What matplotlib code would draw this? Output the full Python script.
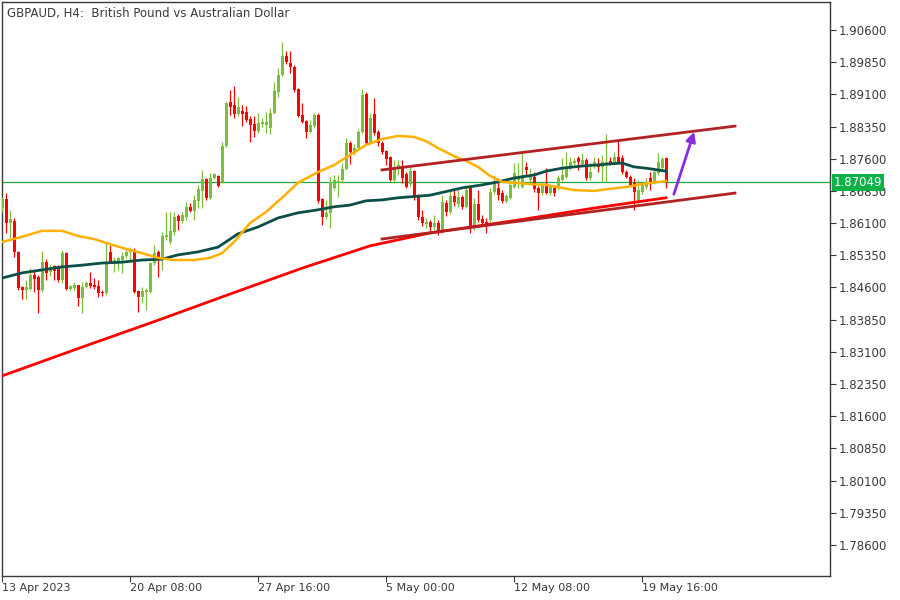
import numpy as np
import matplotlib
matplotlib.use("Agg")
from matplotlib import pyplot as plt
import matplotlib.transforms as mtransforms

# GBPAUD H4 candles
opens = [
    1.8645, 1.8666, 1.8610, 1.8615, 1.8543, 1.8461, 1.8454, 1.8456, 1.8489, 1.8484,
    1.8454, 1.8519, 1.8496, 1.8510, 1.8505, 1.8477, 1.8540, 1.8456, 1.8459, 1.8466,
    1.8436, 1.8461, 1.8470, 1.8466, 1.8463, 1.8450, 1.8447, 1.8543, 1.8522, 1.8522,
    1.8524, 1.8533, 1.8543, 1.8543, 1.8452, 1.8438, 1.8450, 1.8450, 1.8517, 1.8543,
    1.8524, 1.8578, 1.8566, 1.8589, 1.8627, 1.8615, 1.8624, 1.8648, 1.8638, 1.8662,
    1.8685, 1.8713, 1.8669, 1.8715, 1.8720, 1.8706, 1.8790, 1.8892, 1.8885, 1.8864,
    1.8871, 1.8869, 1.8853, 1.8841, 1.8825, 1.8841, 1.8839, 1.8832, 1.8867, 1.8916,
    1.8955, 1.8999, 1.8983, 1.8974, 1.8923, 1.8862, 1.8848, 1.8822, 1.8836, 1.8862,
    1.8666, 1.8624, 1.8634, 1.8692, 1.8704, 1.8710, 1.8736, 1.8797, 1.8773, 1.8785,
    1.8822, 1.8911, 1.8797, 1.8864, 1.8822, 1.8797, 1.8778, 1.8764, 1.8710, 1.8736,
    1.8741, 1.8724, 1.8701, 1.8731, 1.8675, 1.8624, 1.8608, 1.8613, 1.8601, 1.8610,
    1.8589, 1.8657, 1.8636, 1.8673, 1.8655, 1.8671, 1.8648, 1.8694, 1.8599, 1.8655,
    1.8620, 1.8613, 1.8617, 1.8683, 1.8692, 1.8680, 1.8662, 1.8669, 1.8694, 1.8710,
    1.8694, 1.8741, 1.8710, 1.8717, 1.8692, 1.8680, 1.8699, 1.8680, 1.8692, 1.8692,
    1.8710, 1.8717, 1.8738, 1.8750, 1.8762, 1.8748, 1.8757, 1.8715, 1.8745, 1.8745,
    1.8741, 1.8748, 1.8755, 1.8750, 1.8764, 1.8762, 1.8729, 1.8717, 1.8704, 1.8657,
    1.8683, 1.8694, 1.8715, 1.8706, 1.8727, 1.8738, 1.8762,
]
highs = [
    1.8671, 1.8680, 1.8641, 1.8622, 1.8545, 1.8463, 1.8477, 1.8505, 1.8501, 1.8489,
    1.8545, 1.8526, 1.8515, 1.8512, 1.8512, 1.8547, 1.8543, 1.8466, 1.8473, 1.8466,
    1.8473, 1.8475, 1.8496, 1.8482, 1.8477, 1.8454, 1.8566, 1.8559, 1.8531, 1.8531,
    1.8543, 1.8552, 1.8554, 1.8552, 1.8454, 1.8461, 1.8459, 1.8519, 1.8559, 1.8547,
    1.8589, 1.8636, 1.8636, 1.8636, 1.8631, 1.8636, 1.8659, 1.8657, 1.8675, 1.8699,
    1.8734, 1.8715, 1.8727, 1.8727, 1.8722, 1.8799, 1.8892, 1.8920, 1.8930, 1.8904,
    1.8885, 1.8883, 1.8860, 1.8860, 1.8867, 1.8855, 1.8869, 1.8878, 1.8939, 1.8971,
    1.9032, 1.9011, 1.9011, 1.8978, 1.8925, 1.8890, 1.8850, 1.8850, 1.8867, 1.8867,
    1.8669, 1.8664, 1.8717, 1.8722, 1.8722, 1.8750, 1.8808, 1.8801, 1.8794, 1.8829,
    1.8923, 1.8916, 1.8867, 1.8902, 1.8827, 1.8801, 1.8780, 1.8766, 1.8757, 1.8757,
    1.8757, 1.8729, 1.8741, 1.8734, 1.8678, 1.8641, 1.8622, 1.8617, 1.8629, 1.8617,
    1.8675, 1.8664, 1.8687, 1.8692, 1.8687, 1.8675, 1.8699, 1.8696, 1.8669, 1.8687,
    1.8629, 1.8622, 1.8692, 1.8722, 1.8715, 1.8687, 1.8678, 1.8710, 1.8750, 1.8750,
    1.8773, 1.8752, 1.8738, 1.8729, 1.8696, 1.8704, 1.8738, 1.8699, 1.8696, 1.8722,
    1.8762, 1.8776, 1.8764, 1.8762, 1.8766, 1.8773, 1.8762, 1.8750, 1.8764, 1.8762,
    1.8769, 1.8818, 1.8764, 1.8776, 1.8801, 1.8769, 1.8734, 1.8722, 1.8715, 1.8710,
    1.8704, 1.8715, 1.8729, 1.8738, 1.8773, 1.8764, 1.8764,
]
lows = [
    1.8636, 1.8587, 1.8575, 1.8531, 1.8454, 1.8433, 1.8433, 1.8454, 1.8450, 1.8401,
    1.8450, 1.8477, 1.8487, 1.8477, 1.8473, 1.8470, 1.8454, 1.8454, 1.8454, 1.8417,
    1.8401, 1.8459, 1.8459, 1.8456, 1.8438, 1.8440, 1.8443, 1.8517, 1.8496, 1.8501,
    1.8494, 1.8529, 1.8524, 1.8447, 1.8403, 1.8424, 1.8407, 1.8447, 1.8512, 1.8484,
    1.8501, 1.8571, 1.8561, 1.8582, 1.8594, 1.8610, 1.8617, 1.8636, 1.8617, 1.8645,
    1.8645, 1.8664, 1.8666, 1.8713, 1.8694, 1.8704, 1.8787, 1.8862, 1.8855, 1.8860,
    1.8836, 1.8846, 1.8799, 1.8811, 1.8820, 1.8834, 1.8820, 1.8818, 1.8864, 1.8904,
    1.8953, 1.8981, 1.8960, 1.8916, 1.8857, 1.8843, 1.8808, 1.8820, 1.8832, 1.8657,
    1.8606, 1.8620, 1.8599, 1.8687, 1.8671, 1.8704, 1.8734, 1.8748, 1.8769, 1.8783,
    1.8820, 1.8792, 1.8794, 1.8815, 1.8790, 1.8771, 1.8745, 1.8708, 1.8704, 1.8722,
    1.8704, 1.8692, 1.8696, 1.8664, 1.8617, 1.8603, 1.8599, 1.8592, 1.8594, 1.8582,
    1.8587, 1.8627, 1.8631, 1.8650, 1.8648, 1.8643, 1.8645, 1.8587, 1.8594, 1.8613,
    1.8606, 1.8587, 1.8613, 1.8678, 1.8664, 1.8657, 1.8657, 1.8666, 1.8692, 1.8692,
    1.8692, 1.8722, 1.8706, 1.8683, 1.8641, 1.8675, 1.8678, 1.8675, 1.8673, 1.8687,
    1.8708, 1.8715, 1.8734, 1.8745, 1.8734, 1.8743, 1.8710, 1.8710, 1.8738, 1.8729,
    1.8706, 1.8706, 1.8745, 1.8745, 1.8750, 1.8724, 1.8715, 1.8696, 1.8641, 1.8652,
    1.8678, 1.8690, 1.8687, 1.8701, 1.8722, 1.8734, 1.8692,
]
closes = [
    1.8666, 1.8610, 1.8620, 1.8543, 1.8459, 1.8454, 1.8461, 1.8489, 1.8480, 1.8454,
    1.8519, 1.8494, 1.8508, 1.8498, 1.8477, 1.8540, 1.8456, 1.8463, 1.8466, 1.8436,
    1.8461, 1.8470, 1.8463, 1.8461, 1.8447, 1.8447, 1.8519, 1.8519, 1.8524, 1.8529,
    1.8533, 1.8543, 1.8547, 1.8450, 1.8438, 1.8452, 1.8454, 1.8517, 1.8540, 1.8529,
    1.8580, 1.8582, 1.8592, 1.8624, 1.8615, 1.8629, 1.8648, 1.8638, 1.8664, 1.8690,
    1.8713, 1.8669, 1.8715, 1.8724, 1.8696, 1.8790, 1.8890, 1.8881, 1.8864, 1.8881,
    1.8864, 1.8850, 1.8839, 1.8825, 1.8843, 1.8846, 1.8846, 1.8867, 1.8918, 1.8955,
    1.8999, 1.8985, 1.8974, 1.8920, 1.8860, 1.8846, 1.8822, 1.8839, 1.8862, 1.8662,
    1.8624, 1.8634, 1.8706, 1.8710, 1.8708, 1.8736, 1.8797, 1.8776, 1.8785, 1.8822,
    1.8909, 1.8797, 1.8855, 1.8820, 1.8797, 1.8776, 1.8759, 1.8710, 1.8741, 1.8745,
    1.8715, 1.8694, 1.8731, 1.8669, 1.8624, 1.8610, 1.8613, 1.8601, 1.8610, 1.8589,
    1.8659, 1.8636, 1.8673, 1.8659, 1.8671, 1.8648, 1.8687, 1.8603, 1.8655, 1.8617,
    1.8610, 1.8603, 1.8683, 1.8708, 1.8675, 1.8662, 1.8673, 1.8699, 1.8727, 1.8717,
    1.8722, 1.8734, 1.8722, 1.8690, 1.8680, 1.8701, 1.8680, 1.8694, 1.8680, 1.8715,
    1.8722, 1.8741, 1.8752, 1.8755, 1.8752, 1.8757, 1.8715, 1.8729, 1.8752, 1.8741,
    1.8752, 1.8752, 1.8750, 1.8764, 1.8752, 1.8729, 1.8717, 1.8699, 1.8683, 1.8687,
    1.8699, 1.8706, 1.8704, 1.8729, 1.8752, 1.8759, 1.87049,
]
last_price = 1.87049

# moving averages, sampled at bar numbers
ma_fast_bars = [0, 5, 10, 15, 19, 23, 27, 31, 35, 39, 43, 48, 52, 55, 58, 62, 66, 70, 74, 79,
                83, 87, 91, 95, 99, 103, 106, 109, 113, 116, 119, 122, 125, 128, 132, 136,
                140, 143, 148, 152, 156, 160, 166]
ma_fast = [1.8566, 1.8578, 1.8592, 1.8592, 1.8580, 1.8573, 1.8561, 1.8550, 1.8540, 1.8529,
           1.8524, 1.8524, 1.8529, 1.8540, 1.8566, 1.8610, 1.8636, 1.8669, 1.8704, 1.8729,
           1.8745, 1.8769, 1.8792, 1.8806, 1.8813, 1.8811, 1.8801, 1.8785, 1.8766, 1.8755,
           1.8741, 1.8720, 1.8706, 1.8704, 1.8701, 1.8699, 1.8692, 1.8687, 1.8685, 1.8690,
           1.8694, 1.8701, 1.8708]
ma_mid_bars = [0, 5, 10, 15, 20, 25, 30, 35, 40, 44, 49, 54, 59, 64, 69, 74, 79, 83, 87, 91,
               95, 99, 107, 115, 120, 124, 128, 133, 136, 140, 145, 148, 152, 155, 158, 161, 166]
ma_mid = [1.8482, 1.8494, 1.8501, 1.8508, 1.8512, 1.8517, 1.8519, 1.8524, 1.8526, 1.8536,
          1.8543, 1.8554, 1.8585, 1.8601, 1.8622, 1.8634, 1.8641, 1.8648, 1.8652, 1.8662,
          1.8664, 1.8669, 1.8675, 1.8692, 1.8699, 1.8706, 1.8715, 1.8722, 1.8731, 1.8738,
          1.8743, 1.8745, 1.8748, 1.8750, 1.8741, 1.8738, 1.8731]
ma_slow_bars = [0, 20, 40, 55, 75, 92, 107, 129, 148, 166]
ma_slow = [1.8254, 1.8321, 1.8387, 1.8438, 1.8505, 1.8557, 1.8587, 1.8617, 1.8645, 1.8669]

# channel lines and arrow (bar number, price)
upper_chan = [(95, 1.8734), (183.25, 1.8836)]
lower_chan = [(95, 1.8573), (183.25, 1.8680)]
arrow_from = (167.75, 1.8671)
arrow_to = (173.25, 1.8829)

tick_bars = [0, 32, 64, 96, 128, 160]
tick_labels = ["13 Apr 2023", "20 Apr 08:00", "27 Apr 16:00", "5 May 00:00", "12 May 08:00", "19 May 16:00"]
price_ticks = [1.906 - 0.0075 * k for k in range(17)]

bull = "#7CBF3C"
bear = "#FF0000"
txt = "#3A3A3A"

fig = plt.figure(figsize=(9, 6), dpi=100)
ax = fig.add_axes([2 / 900, 24 / 600, 828 / 900, 574 / 600])

o = np.array(opens)
h = np.array(highs)
l = np.array(lows)
c = np.array(closes)
x = np.arange(len(o))
up = c >= o
cols = np.where(up, bull, bear)

ax.vlines(x, l, h, colors=cols, linewidth=0.9, zorder=3)
body_low = np.minimum(o, c)
body_h = np.maximum(np.abs(c - o), 0.00025)
ax.bar(x, body_h, bottom=body_low, width=0.75, color=cols, linewidth=0, zorder=3)

ax.plot(ma_slow_bars, ma_slow, color="#FF0000", lw=2.0, zorder=4)
ax.plot(ma_mid_bars, ma_mid, color="#0B5048", lw=2.0, zorder=4)
ax.plot(ma_fast_bars, ma_fast, color="#FFB000", lw=1.8, zorder=4)

for ch in (upper_chan, lower_chan):
    ax.plot([ch[0][0], ch[1][0]], [ch[0][1], ch[1][1]], color="#B22222", lw=2.0, zorder=5)

ax.annotate("", xy=arrow_to, xytext=arrow_from,
            arrowprops=dict(arrowstyle="-|>", color="#8A2BE2", lw=2.0, mutation_scale=14),
            zorder=6)

ax.axhline(last_price, color="#20A840", lw=0.9, zorder=2)
trans = mtransforms.blended_transform_factory(ax.transAxes, ax.transData)
ax.text(1.004, last_price, "1.87049", transform=trans, ha="left", va="center",
        color="white", fontsize=8.5,
        bbox=dict(boxstyle="square,pad=0.15", fc="#10B048", ec="none"), zorder=7, clip_on=False)

ax.set_xlim(0, 207)
ax.set_ylim(1.77878, 1.91252)

ax.yaxis.tick_right()
ax.set_yticks(price_ticks)
ax.set_yticklabels(["%.5f" % p for p in price_ticks])
ax.set_xticks(tick_bars)
ax.set_xticklabels(tick_labels)
for lab in ax.get_xticklabels():
    lab.set_horizontalalignment("left")
ax.tick_params(axis="both", direction="out", length=4, width=0.8, color=txt,
               labelcolor=txt, labelsize=8.5, pad=2)
ax.tick_params(axis="x", pad=1, labelsize=8)
for s in ax.spines.values():
    s.set_color(txt)
    s.set_linewidth(1.0)

ax.text(0.006, 0.992, "GBPAUD, H4:  British Pound vs Australian Dollar", transform=ax.transAxes,
        ha="left", va="top", fontsize=8.5, color=txt, zorder=8)

fig.savefig("out.png", dpi=100)
